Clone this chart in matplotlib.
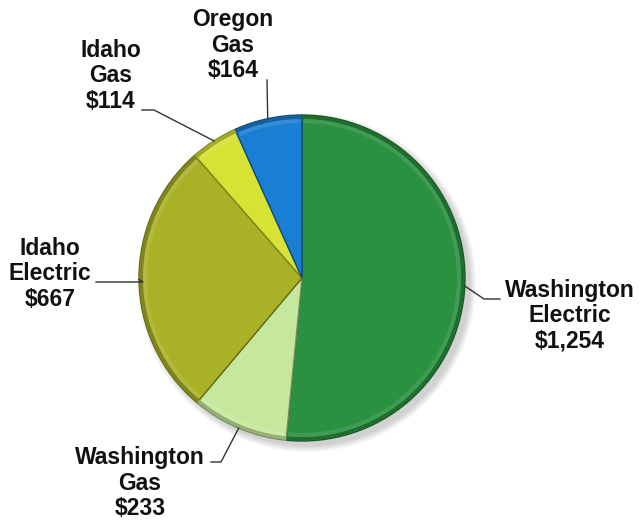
import numpy as np
import matplotlib.pyplot as plt
from matplotlib.patches import Circle, Wedge
from matplotlib.colors import to_rgb

plt.rcParams['font.family'] = ['Liberation Sans', 'DejaVu Sans']

# Data (values in $ millions)
labels = ['Washington\nElectric', 'Washington\nGas', 'Idaho\nElectric', 'Idaho\nGas', 'Oregon\nGas']
values = [1254, 233, 667, 114, 164]
colors = ['#2a9140', '#c6e89c', '#a9b127', '#d6e234', '#1a7fd3']

# layout (pixel coords, y measured from bottom)
W, H = 640, 525
cx, cy, R = 302, 247, 163
text_pos = [(570, 209), (140, 42), (50, 251), (111, 449), (233, 480)]
# elbow and end points of the leader lines
elbows = [(484, 226), (221, 63), (143, 243), (154, 415), (267, 445)]
ends = [(500, 226), (211, 63), (96, 243), (142, 415), (267, 445)]


def shade(c, f):
    r, g, b = to_rgb(c)
    return (r * f, g * f, b * f)


def light(c, f):
    r, g, b = to_rgb(c)
    return (r + (1 - r) * f, g + (1 - g) * f, b + (1 - b) * f)


fig = plt.figure(figsize=(6.4, 5.25), dpi=100)
ax = fig.add_axes([0, 0, 1, 1])

# soft shadow under pie
for k in range(6):
    ax.add_patch(Circle((cx + 5, cy - 5), R + 6 - k * 1.2, color='black', alpha=0.03, lw=0))

wedges, _ = ax.pie(values, colors=colors, startangle=90, counterclock=False,
                   center=(cx, cy), radius=R, frame=True,
                   wedgeprops=dict(linewidth=1.0))
for w, c in zip(wedges, colors):
    w.set_edgecolor(shade(c, 0.6))

# bevel: darker outer rim, faint light band just inside
for w, c in zip(wedges, colors):
    t1, t2 = w.theta1, w.theta2
    ax.add_patch(Wedge((cx, cy), R - 0.5, t1, t2, width=3.5, facecolor=shade(c, 0.75), lw=0))
    ax.add_patch(Wedge((cx, cy), R - 4, t1 + 0.6, t2 - 0.6, width=4, facecolor=light(c, 0.18),
                       lw=0, alpha=0.6))

ax.set_xlim(0, W)
ax.set_ylim(0, H)
ax.set_aspect('equal')
ax.axis('off')

for w, lab, v, tp, el, en in zip(wedges, labels, values, text_pos, elbows, ends):
    ang = np.deg2rad((w.theta1 + w.theta2) / 2)
    px = cx + R * np.cos(ang)
    py = cy + R * np.sin(ang)
    ax.plot([px, el[0], en[0]], [py, el[1], en[1]], color='#333333', lw=1.0)
    ax.text(tp[0], tp[1], f'{lab}\n${v:,}', ha='center', va='center',
            fontsize=16.5, fontweight='bold', color='#111111', linespacing=1.12)

fig.savefig('out.png', dpi=100, facecolor='white')
